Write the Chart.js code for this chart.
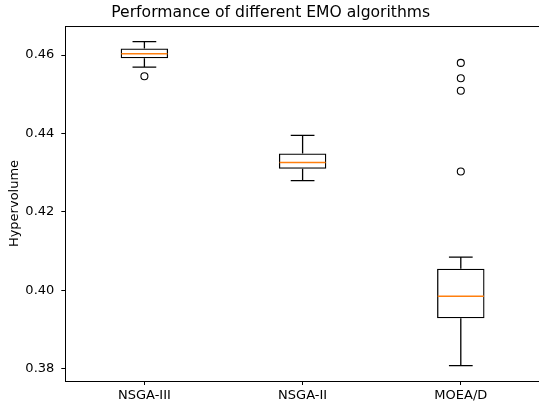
<!DOCTYPE html>
<html>
<head>
<meta charset="utf-8">
<script src="https://cdn.jsdelivr.net/npm/chart.js@4"></script>
<style>
  html, body { margin: 0; padding: 0; background: #fff; overflow: hidden; }
  #wrap { width: 545px; height: 408px; position: relative; }
</style>
</head>
<body>
<div id="wrap"><canvas id="c"></canvas></div>
<script>
const categories = ['NSGA-III', 'NSGA-II', 'MOEA/D'];
const whiskerLow  = [0.4569, 0.4280, 0.3808];
const q1          = [0.4592, 0.4310, 0.3929];
const median      = [0.4603, 0.4326, 0.3985];
const q3          = [0.4617, 0.4349, 0.4055];
const whiskerHigh = [0.4634, 0.4395, 0.4085];
const outliers    = [[0.4546], [], [0.4580, 0.4541, 0.4509, 0.4303]];
const yTicks      = [0.38, 0.40, 0.42, 0.44, 0.46];
const yMin = 0.3769, yMax = 0.4674;

const FONT = 'DejaVu Sans';

const outlierPoints = [];
outliers.forEach((arr, i) => arr.forEach(v => outlierPoints.push({ x: categories[i], y: v })));

const boxPlugin = {
  id: 'boxParts',
  afterDatasetsDraw(chart) {
    const ctx = chart.ctx;
    const xs = chart.scales.x, ys = chart.scales.y;
    const meta = chart.getDatasetMeta(0);
    ctx.save();
    categories.forEach((c, i) => {
      const x = xs.getPixelForValue(i);
      const half = meta.data[i].width / 2;
      const cap = half / 2;
      ctx.strokeStyle = '#000';
      ctx.lineWidth = 1.3;
      ctx.beginPath();
      ctx.moveTo(x, ys.getPixelForValue(q3[i]));
      ctx.lineTo(x, ys.getPixelForValue(whiskerHigh[i]));
      ctx.moveTo(x, ys.getPixelForValue(q1[i]));
      ctx.lineTo(x, ys.getPixelForValue(whiskerLow[i]));
      const yh = ys.getPixelForValue(whiskerHigh[i]);
      const yl = ys.getPixelForValue(whiskerLow[i]);
      ctx.moveTo(x - cap, yh); ctx.lineTo(x + cap, yh);
      ctx.moveTo(x - cap, yl); ctx.lineTo(x + cap, yl);
      ctx.stroke();
      const ym = ys.getPixelForValue(median[i]);
      ctx.strokeStyle = '#ff7f0e';
      ctx.lineWidth = 1.5;
      ctx.beginPath();
      ctx.moveTo(x - half + 0.7, ym); ctx.lineTo(x + half - 0.7, ym);
      ctx.stroke();
    });
    // top spine
    const a = chart.chartArea;
    ctx.strokeStyle = '#000';
    ctx.lineWidth = 1;
    ctx.beginPath();
    ctx.moveTo(a.left, a.top + 0.5);
    ctx.lineTo(a.right, a.top + 0.5);
    ctx.stroke();
    ctx.restore();
  }
};

new Chart(document.getElementById('c'), {
  data: {
    labels: categories,
    datasets: [
      {
        type: 'bar',
        data: categories.map((c, i) => [q1[i], q3[i]]),
        backgroundColor: 'rgba(255,255,255,0)',
        borderColor: '#000',
        borderWidth: 1.3,
        borderSkipped: false,
        barPercentage: 0.3,
        categoryPercentage: 1.0
      },
      {
        type: 'line',
        data: outlierPoints,
        showLine: false,
        pointStyle: 'circle',
        pointRadius: 3.5,
        pointBorderWidth: 1.1,
        pointBorderColor: '#000',
        pointBackgroundColor: 'rgba(255,255,255,0)'
      }
    ]
  },
  options: {
    responsive: true,
    maintainAspectRatio: false,
    animation: false,
    devicePixelRatio: 1,
    layout: { padding: { left: 0, right: 3.6, top: 0, bottom: 0 } },
    plugins: {
      legend: { display: false },
      tooltip: { enabled: false },
      title: {
        display: true,
        text: 'Performance of different EMO algorithms',
        color: '#000',
        font: { family: FONT, size: 15.6, weight: 'normal' },
        padding: { top: 4, bottom: 3.3 }
      }
    },
    scales: {
      x: {
        type: 'category',
        offset: true,
        grid: { display: true, drawOnChartArea: false, drawTicks: true, tickLength: 4, color: '#000', offset: false },
        border: { display: true, color: '#000', width: 1 },
        ticks: { color: '#000', font: { family: FONT, size: 13 }, padding: 3, maxRotation: 0 },
        afterFit(scale) { scale.height = 27; }
      },
      y: {
        type: 'linear',
        min: yMin,
        max: yMax,
        grid: { display: true, drawOnChartArea: false, drawTicks: true, tickLength: 4, color: '#000' },
        border: { display: true, color: '#000', width: 1 },
        ticks: {
          color: '#000',
          font: { family: FONT, size: 13 },
          padding: 7,
          includeBounds: false,
          callback: (v) => Number(v).toFixed(2)
        },
        afterBuildTicks(scale) { scale.ticks = yTicks.map(v => ({ value: v })); },
        title: {
          display: true,
          text: 'Hypervolume',
          color: '#000',
          font: { family: FONT, size: 13 },
          padding: { top: 7, bottom: 0 }
        },
        afterFit(scale) { scale.width = 65.3; }
      }
    }
  },
  plugins: [boxPlugin]
});
</script>
</body>
</html>
